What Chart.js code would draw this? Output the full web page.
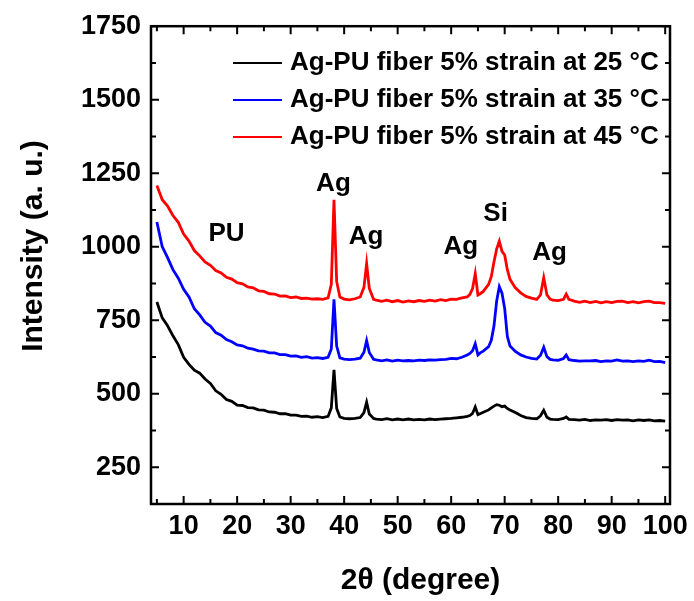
<!DOCTYPE html>
<html>
<head>
<meta charset="utf-8">
<script src="https://cdn.jsdelivr.net/npm/chart.js@4.4.1/dist/chart.umd.min.js"></script>
<style>
  html, body { margin: 0; padding: 0; background: #fff; }
  #wrap { width: 694px; height: 601px; }
</style>
</head>
<body>
<div id="wrap"><canvas id="xrd"></canvas></div>
<script>
// 2θ positions shared by the three patterns
const twoTheta = [
  5, 6, 7, 8, 9, 10, 11, 12, 13, 14, 15, 16, 17, 18, 19, 20, 21, 22, 23, 24, 25, 26, 27, 28, 29, 30, 31, 32, 33, 34, 35, 36,
  37, 37.6, 38.1, 38.6, 39.2, 40, 41, 42, 43, 43.7, 44.2, 44.7, 45.5,
  46, 47, 48, 49, 50, 51, 52, 53, 54, 55, 56, 57, 58, 59, 60, 61, 62, 63,
  63.5, 64, 64.5, 65, 65.5, 66, 67, 67.5, 68, 68.5, 69, 69.5, 70, 70.5, 71, 72, 73, 74, 75, 76,
  76.7, 77.3, 77.9, 78.5, 79, 80, 81, 81.5, 82,
  83, 84, 85, 86, 87, 88, 89, 90, 91, 92, 93, 94, 95, 96, 97, 98, 99, 100,
];

const at25C = [
  812, 758, 731, 697, 667, 624, 600, 580, 570, 550, 535, 510, 498, 480, 474, 461, 460, 453, 452, 445, 444, 438, 437, 432, 432, 427, 427, 423, 424, 420, 422, 419,
  423, 452, 581, 450, 421, 416, 415, 416, 419, 436, 471, 431, 416,
  414, 412, 415, 411, 414, 411, 414, 411, 413, 411, 414, 412, 414, 415, 416, 418, 420, 423,
  426, 433, 455, 429, 433, 437, 445, 452, 458, 463, 461, 456, 458, 450, 445, 436, 426, 419, 416, 415,
  425, 444, 420, 414, 413, 412, 416, 421, 413,
  412, 410, 413, 409, 411, 410, 412, 409, 412, 410, 411, 408, 411, 409, 411, 408, 409, 407,
];

const at35C = [
  1084, 1000, 963, 922, 893, 855, 829, 789, 768, 743, 730, 708, 699, 684, 677, 666, 663, 655, 652, 646, 645, 639, 639, 633, 633, 628, 629, 624, 626, 621, 623, 620,
  624, 652, 821, 662, 622, 618, 616, 618, 621, 641, 681, 640, 617,
  615, 612, 615, 611, 614, 612, 613, 612, 614, 613, 615, 614, 616, 617, 620, 619, 624, 632,
  637, 646, 670, 632, 640, 645, 660, 682, 730, 815, 864, 842, 790, 695, 662, 644, 632, 625, 620, 618,
  631, 658, 626, 617, 615, 614, 620, 632, 616,
  613, 611, 612, 612, 613, 609, 612, 611, 615, 611, 612, 609, 612, 610, 614, 609, 610, 606,
];

const at45C = [
  1208, 1160, 1138, 1106, 1083, 1043, 1019, 987, 969, 948, 937, 919, 911, 896, 890, 878, 874, 863, 860, 850, 848, 840, 839, 832, 833, 827, 829, 824, 825, 822, 823, 821,
  826, 872, 1160, 882, 829, 822, 819, 823, 829, 862, 943, 858, 821,
  818, 814, 818, 813, 817, 812, 816, 813, 817, 814, 818, 815, 820, 817, 822, 821, 826, 829,
  838, 858, 909, 836, 841, 848, 872, 898, 948, 992, 1019, 984, 972, 922, 889, 860, 843, 831, 825, 821,
  836, 895, 836, 822, 818, 817, 821, 839, 821,
  815, 811, 815, 810, 814, 809, 813, 810, 814, 815, 810, 813, 809, 813, 815, 810, 810, 807,
];

const seriesLabels = [
  'Ag-PU fiber 5% strain at 25 °C',
  'Ag-PU fiber 5% strain at 35 °C',
  'Ag-PU fiber 5% strain at 45 °C',
];
const seriesColors = ['#000000', '#0000ff', '#ff0000'];

const xTicks = [10, 20, 30, 40, 50, 60, 70, 80, 90, 100];
const xMinor = [5, 15, 25, 35, 45, 55, 65, 75, 85, 95];
const yTicks = [250, 500, 750, 1000, 1250, 1500, 1750];
const yMinor = [375, 625, 875, 1125, 1375, 1625];

// peak labels, placed in data coordinates
const peakNames = ['PU', 'Ag', 'Ag', 'Ag', 'Si', 'Ag'];
const peakX = [18, 38, 44.1, 61.8, 68.3, 78.4];
const peakY = [1045, 1214, 1033, 998, 1112, 978];

const FONT = '"Liberation Sans", Arial, Helvetica, sans-serif';

const toPoints = (ys) => twoTheta.map((x, i) => ({ x, y: ys[i] }));

// frame with inward ticks, legend, axis titles and peak labels
const decorations = {
  id: 'decorations',
  afterDatasetsDraw(chart) {
    const { ctx, chartArea: a, scales: { x, y } } = chart;
    ctx.save();
    ctx.strokeStyle = '#000';
    ctx.lineWidth = 2;
    ctx.beginPath();
    const xMark = (v, len) => {
      const px = x.getPixelForValue(v);
      ctx.moveTo(px, a.bottom); ctx.lineTo(px, a.bottom - len);
      ctx.moveTo(px, a.top); ctx.lineTo(px, a.top + len);
    };
    const yMark = (v, len) => {
      const py = y.getPixelForValue(v);
      ctx.moveTo(a.left, py); ctx.lineTo(a.left + len, py);
      ctx.moveTo(a.right, py); ctx.lineTo(a.right - len, py);
    };
    xTicks.forEach((v) => xMark(v, 8));
    xMinor.forEach((v) => xMark(v, 5));
    yTicks.forEach((v) => yMark(v, 8));
    yMinor.forEach((v) => yMark(v, 5));
    ctx.stroke();

    ctx.lineWidth = 2.5;
    ctx.strokeRect(a.left, a.top, a.right - a.left, a.bottom - a.top);

    ctx.fillStyle = '#000';
    ctx.textBaseline = 'middle';

    // peak labels
    ctx.font = 'bold 26px ' + FONT;
    ctx.textAlign = 'center';
    peakNames.forEach((name, i) => {
      ctx.fillText(name, x.getPixelForValue(peakX[i]), y.getPixelForValue(peakY[i]));
    });

    // legend
    ctx.font = 'bold 26px ' + FONT;
    ctx.textAlign = 'left';
    seriesLabels.forEach((label, i) => {
      const rowY = 63 + i * 37;
      ctx.strokeStyle = seriesColors[i];
      ctx.lineWidth = 2;
      ctx.beginPath();
      ctx.moveTo(233, rowY);
      ctx.lineTo(282, rowY);
      ctx.stroke();
      ctx.fillText(label, 290, rowY);
    });

    // axis titles
    ctx.font = 'bold 30px ' + FONT;
    ctx.textAlign = 'center';
    ctx.fillText('2θ (degree)', (a.left + a.right) / 2 + 10, 581);
    ctx.save();
    ctx.translate(34, 246);
    ctx.rotate(-Math.PI / 2);
    ctx.fillText('Intensity (a. u.)', 0, 0);
    ctx.restore();

    ctx.restore();
  },
};

const tickFont = { family: FONT, size: 27, weight: 'bold' };

new Chart(document.getElementById('xrd'), {
  type: 'line',
  data: {
    datasets: [at25C, at35C, at45C].map((ys, i) => ({
      label: seriesLabels[i],
      data: toPoints(ys),
      borderColor: seriesColors[i],
      backgroundColor: seriesColors[i],
      borderWidth: 2.8,
      pointRadius: 0,
      tension: 0,
      fill: false,
    })),
  },
  options: {
    responsive: true,
    maintainAspectRatio: false,
    animation: false,
    layout: { padding: { top: 24, right: 24, left: 0, bottom: 0 } },
    plugins: {
      legend: { display: false },
      tooltip: { enabled: false },
    },
    scales: {
      x: {
        type: 'linear',
        min: 3.9,
        max: 100.9,
        grid: { display: false, drawTicks: false },
        border: { display: false },
        afterBuildTicks: (s) => { s.ticks = xTicks.map((value) => ({ value })); },
        afterFit: (s) => { s.height = 97; },
        ticks: { color: '#000', font: tickFont, padding: 6, maxRotation: 0, callback: (v) => String(v) },
      },
      y: {
        type: 'linear',
        min: 125,
        max: 1750,
        grid: { display: false, drawTicks: false },
        border: { display: false },
        afterBuildTicks: (s) => { s.ticks = yTicks.map((value) => ({ value })); },
        afterFit: (s) => { s.width = 151; },
        ticks: { color: '#000', font: tickFont, padding: 10, callback: (v) => String(v) },
      },
    },
  },
  plugins: [decorations],
});
</script>
</body>
</html>
